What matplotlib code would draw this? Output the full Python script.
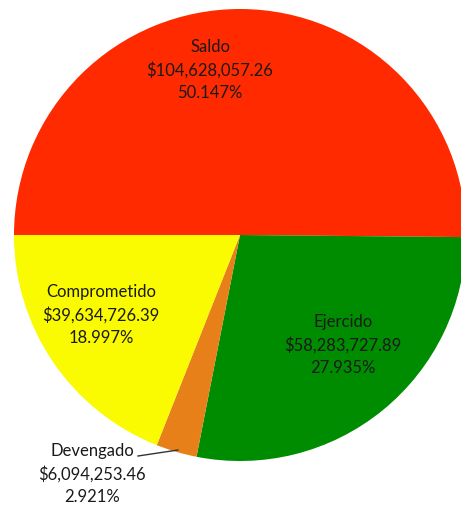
import matplotlib
matplotlib.use("Agg")
import matplotlib.pyplot as plt

categories = ["Saldo", "Ejercido", "Devengado", "Comprometido"]
values = [104628057.26, 58283727.89, 6094253.46, 39634726.39]
percents = [50.147, 27.935, 2.921, 18.997]
colors = ["#FF2A00", "#008C00", "#E8801A", "#FAFA00"]

W, H = 461, 508
fig = plt.figure(figsize=(W / 100, H / 100), dpi=100)
ax = fig.add_axes([0, 0, 1, 1])

cx, cy, r = 240, H - 235, 226
ax.pie(values, colors=colors, startangle=180, counterclock=False,
       center=(cx, cy), radius=r, wedgeprops=dict(linewidth=0),
       frame=False)
ax.set_xlim(0, W)
ax.set_ylim(0, H)
ax.set_aspect("equal")
ax.axis("off")

def label(i):
    return f"{categories[i]}\n${values[i]:,.2f}\n{percents[i]:.3f}%"

# label centers in pixel coordinates (x, y-from-top of middle line)
pos = {0: (210, 70), 1: (343, 345), 2: (92, 474), 3: (101, 315)}
for i, (x, y) in pos.items():
    ax.text(x, H - y, label(i), ha="center", va="center", fontsize=12,
            family="Lato", color="#1a1a1a", linespacing=1.5)

# leader line for Devengado
ax.plot([138, 178], [H - 456, H - 450], color="#333333", lw=1)

fig.savefig("out.png", dpi=100)
